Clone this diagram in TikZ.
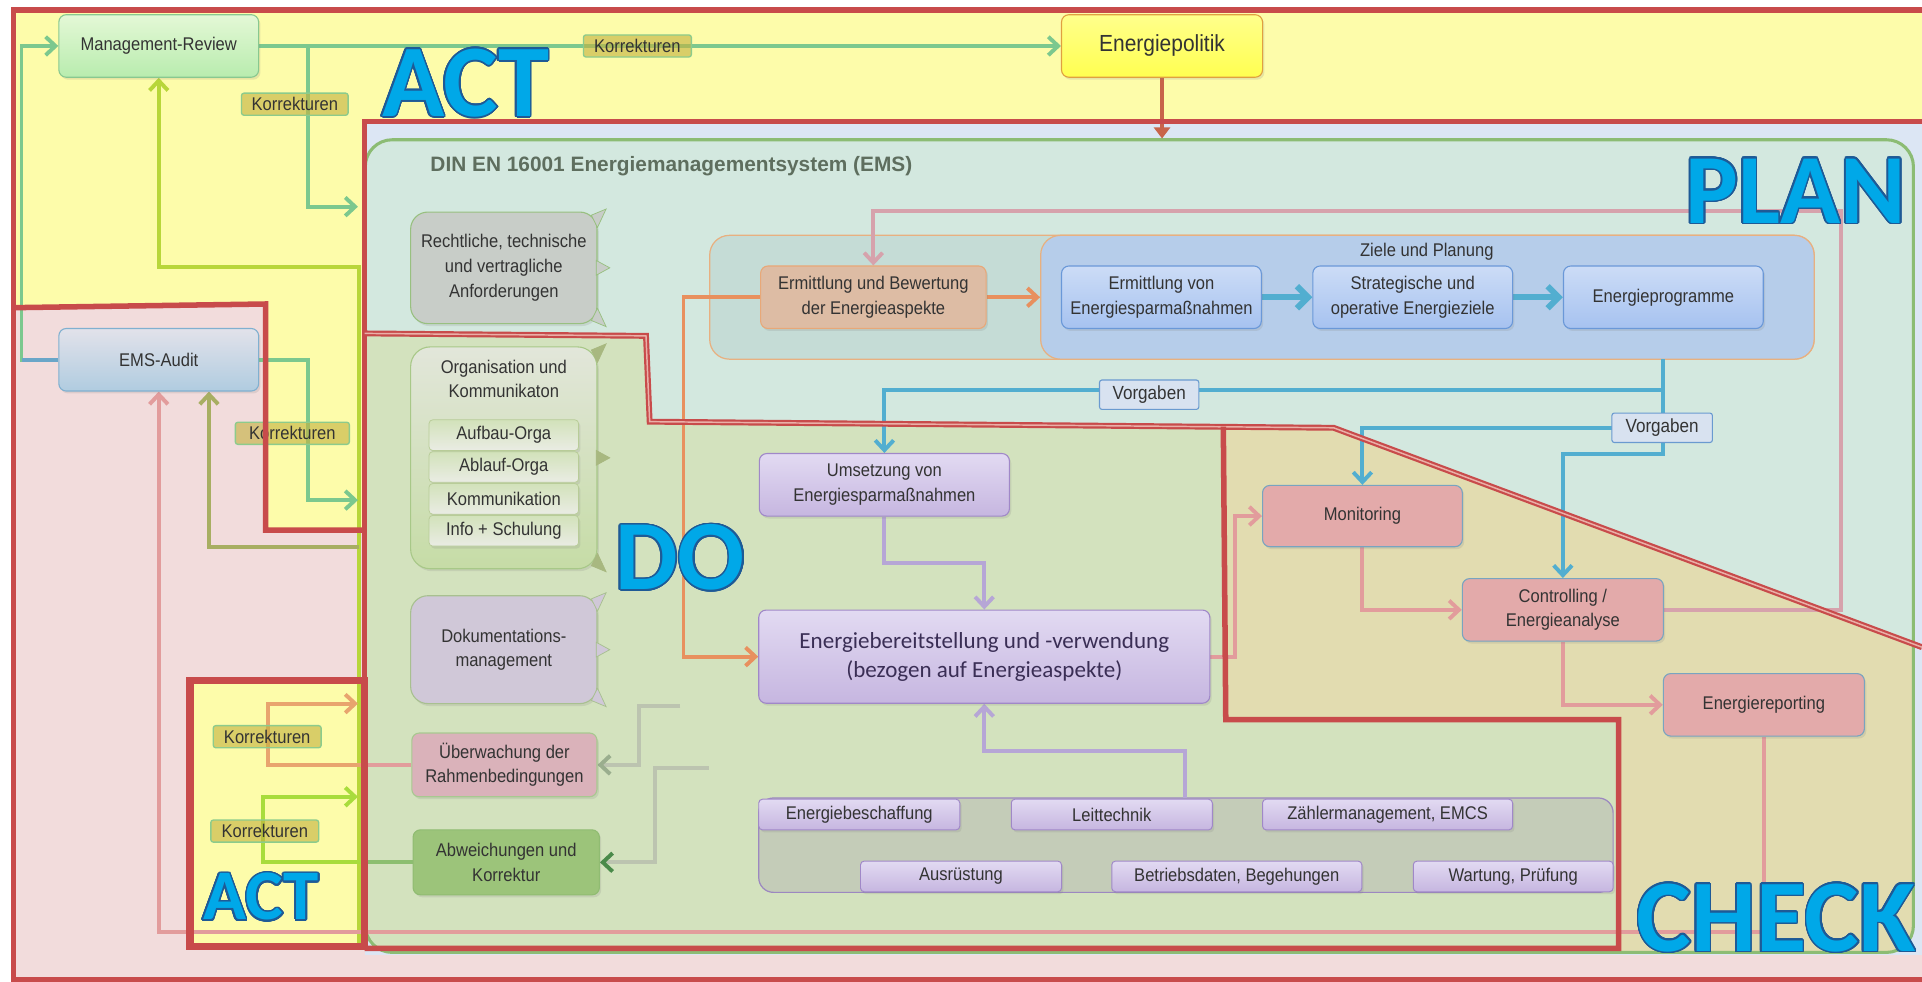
\documentclass[tikz,border=0pt]{standalone}
\usepackage{fontspec}
\setmainfont{Liberation Sans}[FakeStretch=0.9]
\newfontfamily\titlefont{Liberation Sans}
\newfontfamily\calfont{Carlito}
\usepackage{contour}
\contourlength{1.3pt}
\contournumber{24}
\usetikzlibrary{arrows.meta,shadows,calc}
\pgfdeclarelayer{bg}
\pgfdeclarelayer{conn}
\pgfdeclarelayer{fg}
\pgfsetlayers{bg,conn,main,fg}

\definecolor{yel}{HTML}{FDFCAA}
\definecolor{pnk}{HTML}{F2DCDC}
\definecolor{planc}{HTML}{DCE6F4}
\definecolor{emsc}{HTML}{D3E8DF}
\definecolor{emsline}{HTML}{8CBC74}
\definecolor{dofill}{HTML}{D3E2BE}
\definecolor{chk}{HTML}{E2DCB0}
\definecolor{redl}{HTML}{C84B4B}
\definecolor{redgap}{HTML}{EAB0A8}
\definecolor{bigblue}{HTML}{00A8E8}
\definecolor{bigline}{HTML}{1E5A96}
\definecolor{txt}{HTML}{333333}
\definecolor{cgreen}{HTML}{7CC88E}
\definecolor{cauline}{HTML}{6AA6C8}
\definecolor{cygreen}{HTML}{B8D63A}
\definecolor{colive}{HTML}{A8AE62}
\definecolor{cpink}{HTML}{E29C9C}
\definecolor{corange}{HTML}{E8A46E}
\definecolor{corange2}{HTML}{E8905E}
\definecolor{clime}{HTML}{A8DC3C}
\definecolor{cblue}{HTML}{52AED0}
\definecolor{cpurple}{HTML}{B6A6D6}
\definecolor{cred}{HTML}{C8644A}
\definecolor{cmauve}{HTML}{D6A2AC}
\definecolor{cgrey}{HTML}{BCC4B0}
\definecolor{cgreyhead}{HTML}{9AAE8E}
\definecolor{cdkgreen}{HTML}{4A8A4A}
\definecolor{abwline}{HTML}{8CBE70}
\definecolor{mrB}{HTML}{88C890}
\definecolor{mrT}{HTML}{E4F8D6}
\definecolor{mrBo}{HTML}{B8ECAE}
\definecolor{epB}{HTML}{E0A040}
\definecolor{epT}{HTML}{FFFF8C}
\definecolor{epBo}{HTML}{FFFF50}
\definecolor{auB}{HTML}{80B0D0}
\definecolor{auT}{HTML}{E2E2EA}
\definecolor{auBo}{HTML}{B0CCE0}
\definecolor{reB}{HTML}{98C080}
\definecolor{reF}{HTML}{C8CDC8}
\definecolor{orB}{HTML}{A8C888}
\definecolor{orT}{HTML}{E2E6DA}
\definecolor{orBo}{HTML}{C6DCA6}
\definecolor{itB}{HTML}{B8CC98}
\definecolor{itT}{HTML}{D2E2BA}
\definecolor{itBo}{HTML}{EAECE4}
\definecolor{doB}{HTML}{A8C090}
\definecolor{doF}{HTML}{D0C8D8}
\definecolor{ueF}{HTML}{DAB2BA}
\definecolor{ueB}{HTML}{A8C890}
\definecolor{abF}{HTML}{9CC47A}
\definecolor{abB}{HTML}{90BC72}
\definecolor{ebF}{HTML}{DDBCA4}
\definecolor{ebB}{HTML}{E8A878}
\definecolor{blB}{HTML}{6A98D8}
\definecolor{blT}{HTML}{CCDCF6}
\definecolor{blBo}{HTML}{A6C2F0}
\definecolor{voF}{HTML}{D8E2F0}
\definecolor{voB}{HTML}{6A9AD0}
\definecolor{puB}{HTML}{A088C8}
\definecolor{puT}{HTML}{E2DAF2}
\definecolor{puBo}{HTML}{C6B6E0}
\definecolor{ckF}{HTML}{E3AAAA}
\definecolor{ckB}{HTML}{78A4C0}
\definecolor{koF}{HTML}{C4B240}
\definecolor{koB}{HTML}{8CCB8C}
\definecolor{pcF}{HTML}{C5DCD6}
\definecolor{pcB}{HTML}{E8B080}
\definecolor{zpF}{HTML}{B6CDEA}
\definecolor{bcF}{HTML}{C4CCB8}
\definecolor{bcB}{HTML}{9C88C0}
\definecolor{oltail}{HTML}{A8B880}
\definecolor{titlec}{HTML}{5E6E5E}
\definecolor{ebvtxt}{HTML}{3A2E55}

\newcommand\pdcaword[1]{{\color{bigblue}\contour{bigline}{#1}}}
\newcommand\tails[3]{%
  \filldraw[fill=#2,draw=#3,line width=.6pt]
    ([shift={(-5,3)}]#1.north east) -- ([shift={(7,-2)}]#1.north east) -- ([shift={(0,13)}]#1.north east) -- cycle;
  \filldraw[fill=#2,draw=#3,line width=.6pt]
    ([shift={(-1,-6)}]#1.east) -- ([shift={(10,0)}]#1.east) -- ([shift={(-1,6)}]#1.east) -- cycle;
  \filldraw[fill=#2,draw=#3,line width=.6pt]
    ([shift={(-5,-3)}]#1.south east) -- ([shift={(7,2)}]#1.south east) -- ([shift={(0,-13)}]#1.south east) -- cycle;
}

\tikzset{
 conn/.style={line width=3.2pt, line join=miter, -{Straight Barb[length=8pt,width=15pt]}},
 bx/.style={rectangle, rounded corners=6pt, line width=0.9pt, align=center, inner sep=1pt, text=txt,
   font=\fontsize{15}{20}\selectfont, drop shadow={opacity=0.18, shadow xshift=1.5pt, shadow yshift=-2pt}},
 sz/.style 2 args={minimum width=#1pt, minimum height=#2pt},
 mrst/.style={bx, draw=mrB, top color=mrT, bottom color=mrBo},
 epst/.style={bx, draw=epB, top color=epT, bottom color=epBo, font=\fontsize{19}{22}\selectfont},
 aust/.style={bx, draw=auB, top color=auT, bottom color=auBo},
 rest/.style={bx, draw=reB, fill=reF, rounded corners=14pt, font=\fontsize{15}{20.5}\selectfont},
 orst/.style={bx, draw=orB, top color=orT, bottom color=orBo, rounded corners=16pt},
 itst/.style={bx, draw=itB, top color=itT, bottom color=itBo, rounded corners=3pt, line width=.6pt, minimum width=122pt, minimum height=25pt},
 dost/.style={bx, draw=doB, fill=doF, rounded corners=14pt},
 uest/.style={bx, draw=ueB, fill=ueF},
 abst/.style={bx, draw=abB, fill=abF},
 ebst/.style={bx, draw=ebB, fill=ebF},
 blst/.style={bx, draw=blB, top color=blT, bottom color=blBo},
 pust/.style={bx, draw=puB, top color=puT, bottom color=puBo},
 smallp/.style={pust, rounded corners=3pt, line width=.8pt, minimum height=25pt},
 ckst/.style={bx, draw=ckB, fill=ckF},
 vost/.style={rectangle, rounded corners=2pt, draw=voB, fill=voF, line width=.9pt, text=txt,
   font=\fontsize{15.5}{18}\selectfont, inner sep=0pt},
 korr/.style={rectangle, rounded corners=2pt, draw=koB, line width=1.1pt, fill=koF, fill opacity=0.62,
   text opacity=1, text=txt, font=\fontsize{15}{18}\selectfont, inner sep=0pt, minimum width=88pt, minimum height=18pt},
 bigw/.style={anchor=base, inner sep=0pt},
 redb/.style={redl, line width=4.5pt, line join=miter},
}

\begin{document}
\begin{tikzpicture}[x=1pt,y=-1pt]
\useasboundingbox (0,0) rectangle (1568,801);

% ---------------- background regions
\begin{pgfonlayer}{bg}
\fill[white] (0,0) rectangle (1568,801);
\fill[pnk] (11,250) rectangle (1568,799.5);
\fill[yel] (11,8) -- (1568,8) -- (1568,99) -- (297.5,99) -- (297.5,432.5) -- (216.7,432.5) -- (216.7,248) -- (11,251) -- cycle;
\fill[planc] (297.5,99) rectangle (1568,779);
\fill[emsc, rounded corners=22pt] (298,114) rectangle (1561,777);
\begin{scope}
 \clip[rounded corners=22pt] (298,114) rectangle (1561,777);
 \fill[dofill] (298,272) -- (527,274) -- (530,344) -- (998,348) -- (1000,587) -- (1320.5,587) -- (1320.5,790) -- (290,790) -- cycle;
 \fill[chk] (998,348) -- (1088,349) -- (1580,535) -- (1580,790) -- (1320.5,790) -- (1320.5,587) -- (1000,587) -- cycle;
\end{scope}
\draw[emsline, line width=2.5pt, rounded corners=22pt] (298,114) rectangle (1561,777);
\fill[yel] (155,555) rectangle (297.5,772);
\node[rectangle, rounded corners=16pt, draw=pcB, fill=pcF, line width=1pt, sz={901}{101}] (pc) at (1029.5,242.5) {};
\node[rectangle, rounded corners=16pt, draw=pcB, fill=zpF, line width=1pt, sz={631}{101}] (zp) at (1164.5,242.5) {};
\node[rectangle, rounded corners=12pt, draw=bcB, fill=bcF, line width=1pt, sz={697}{77}] (bc) at (967.5,689.5) {};
\end{pgfonlayer}

% ---------------- nodes
\node[mrst, sz={163}{51}] (mr) at (129.5,37.5) {Management-Review};
\node[epst, sz={164}{51}] (ep) at (948,37.5) {Energiepolitik};
\node[aust, sz={163}{51}] (audit) at (129.5,293.5) {EMS-Audit};

\node[anchor=base west, inner sep=0pt, font=\titlefont\bfseries\fontsize{17}{20}\selectfont, text=titlec] (title) at (351,140) {DIN EN 16001 Energiemanagementsystem (EMS)};

\node[rest, sz={152}{91}] (rechtl) at (411,218.5) {Rechtliche, technische\\und vertragliche\\Anforderungen};
\node[orst, sz={152}{181}] (org) at (411,373.5) {};
\node[align=center, text=txt, font=\fontsize{15}{20}\selectfont] (orgt) at (411,309) {Organisation und\\Kommunikaton};
\node[itst] (it1) at (411,355) {Aufbau-Orga};
\node[itst] (it2) at (411,381) {Ablauf-Orga};
\node[itst] (it3) at (411,407) {Kommunikation};
\node[itst] (it4) at (411,433) {Info + Schulung};
\node[dost, sz={152}{88}] (doku) at (411,530) {Dokumentations-\\management};
\node[uest, sz={151}{52}] (ueb) at (411.5,624) {Überwachung der\\Rahmenbedingungen};
\node[abst, sz={152}{53}] (abw) at (413,703.5) {Abweichungen und\\Korrektur};

\tails{rechtl}{reF}{reB}
\tails{org}{oltail}{oltail}
\tails{doku}{doF}{doB}

\node[text=txt, font=\fontsize{15}{18}\selectfont] (zpt) at (1164,205) {Ziele und Planung};
\node[ebst, sz={184}{51}] (eb) at (712.5,242.5) {Ermittlung und Bewertung\\der Energieaspekte};
\node[blst, sz={163}{51}] (ev) at (947.5,242.5) {Ermittlung von\\Energiesparmaßnahmen};
\node[blst, sz={163}{51}] (so) at (1152.5,242.5) {Strategische und\\operative Energieziele};
\node[blst, sz={163}{51}] (epg) at (1357,242.5) {Energieprogramme};

\node[pust, sz={204}{51}] (ums) at (721.5,395.5) {Umsetzung von\\Energiesparmaßnahmen};
\node[pust, sz={368}{76}, font=\calfont\fontsize{18.8}{23.5}\selectfont, text=ebvtxt] (ebv) at (803,535.7) {Energiebereitstellung und -verwendung\\(bezogen auf Energieaspekte)};
\node[ckst, sz={163}{50}] (mon) at (1111.5,421) {Monitoring};
\node[ckst, sz={164}{51}] (ctrl) at (1275,497.5) {Controlling /\\Energieanalyse};
\node[ckst, sz={164}{51}] (rep) at (1439,575) {Energiereporting};

\node[vost, sz={81}{24}] (v1) at (937.5,322) {Vorgaben};
\node[vost, sz={82}{24}] (v2) at (1356,349) {Vorgaben};

\node[korr] (k1) at (520,37.5) {Korrekturen};
\node[korr, minimum width=87pt] (k2) at (240.5,85) {Korrekturen};
\node[korr, minimum width=93pt] (k3) at (238.5,353.5) {Korrekturen};
\node[korr] (k4) at (218,601) {Korrekturen};
\node[korr] (k5) at (216,678) {Korrekturen};

\node[smallp, minimum width=164pt] (s1) at (701,664.5) {Energiebeschaffung};
\node[smallp, minimum width=164pt] (s2) at (907,664.5) {Leittechnik};
\node[smallp, minimum width=204pt] (s3) at (1132,664.5) {Zählermanagement, EMCS};
\node[smallp, minimum width=164pt] (s4) at (784,715) {Ausrüstung};
\node[smallp, minimum width=204pt] (s5) at (1009,715) {Betriebsdaten, Begehungen};
\node[smallp, minimum width=163pt] (s6) at (1234.5,715) {Wartung, Prüfung};

% ---------------- coordinates
\coordinate (j1) at (251,37.5);
\coordinate (tA) at (292,168.6);
\coordinate (tB) at (292,408);
\coordinate (tC) at (292,574);
\coordinate (tD) at (292,650);
\coordinate (ygs) at (292.5,773);
\coordinate (olv) at (292.5,446.5);
\coordinate (emsTop) at (948,113);
\coordinate (zpb) at (1357,293);
\coordinate (jb1) at (1357,318);
\coordinate (jb2) at (1357,349);
\coordinate (bc1) at (967,651);
\coordinate (g1) at (555,576);
\coordinate (g2) at (578,626.5);

% ---------------- connectors
\begin{pgfonlayer}{conn}
\draw[conn,cgreen] (mr.east) -- (ep.west);
\draw[conn,cgreen] (j1) |- (tA);
\draw[conn,cgreen] (audit.west) -- ++(-30,0) |- (mr.west);
\draw[line width=3.2pt,cauline] (audit.west) -- ++(-30,0);
\draw[conn,cygreen] (ygs) -- (292.5,217.6) -| (mr.south);
\draw[conn,colive] (olv) -| ([xshift=41pt]audit.south);
\draw[conn,cpink] (rep.south) -- (1439,760) -| (audit.south);
\draw[conn,cgreen] (audit.east) -- (251,293.5) |- (tB);
\draw[line width=3pt, cred, -{Triangle[length=9pt,width=13pt]}] (ep.south) -- (emsTop);
\draw[conn,cmauve] (ctrl.east) -| (1501.6,172) -| (eb.north);
\draw[conn,corange2] (eb.west) -- (557.6,242.5) |- (ebv.west);
\draw[conn,corange2] (eb.east) -- (zp.west);
\draw[line width=5pt,cblue,-{Straight Barb[length=9pt,width=18pt]}] (ev.east) -- (so.west);
\draw[line width=5pt,cblue,-{Straight Barb[length=9pt,width=18pt]}] (so.east) -- (epg.west);
\draw[conn,cblue] (zpb) -- (jb1) -| (ums.north);
\draw[conn,cblue] (jb1) -- (jb2) -| (mon.north);
\draw[conn,cblue] (jb2) -- (1357,370) -| (ctrl.north);
\draw[conn,cpurple] (ums.south) -- ++(0,38) -| (ebv.north);
\draw[conn,cpurple] (bc1) -- (967,613) -| (ebv.south);
\draw[conn,cpink] (ebv.east) -- (1007.5,535.7) |- (mon.west);
\draw[conn,cpink] (mon.south) |- (ctrl.west);
\draw[conn,cpink] (ctrl.south) |- (rep.west);
\draw[conn,corange] (ueb.west) -- (218.6,624) |- (tC);
\draw[line width=3.2pt,cpink] (ueb.west) -- (297.5,624);
\draw[conn,clime] (abw.west) -- (214.8,703.5) |- (tD);
\draw[line width=3.2pt,abwline] (abw.west) -- (297.5,703.5);
\draw[line width=3.2pt,cgrey,-{Straight Barb[length=8pt,width=15pt,color=cgreyhead]}] (g1) -- (521,576) |- (ueb.east);
\draw[line width=3.2pt,cgrey,-{Straight Barb[length=8pt,width=15pt,color=cdkgreen]}] (g2) -- (534,626.5) |- (abw.east);
\end{pgfonlayer}

% ---------------- red PDCA borders and big labels
\begin{pgfonlayer}{fg}
\draw[redb] (1568,8) -- (11,8) -- (11,799.5) -- (1568,799.5);
\draw[redb] (11,251) -- (216.7,248) -- (216.7,432.5) -- (297.5,432.5);
\draw[redb] (1568,99) -- (297.5,99) -- (297.5,773.6);
\draw[redl, line width=1.8pt, double=redgap, double distance=1.2pt] (297.5,272) -- (527,274) -- (530,344) -- (1088,349) -- (1568,528);
\draw[redb] (998,348) -- (1000,587) -- (1320.5,587) -- (1320.5,773.6) -- (297.5,773.6);
\draw[redl, line width=6pt] (155,555) rectangle (297.5,772);

\node[bigw, font=\calfont\bfseries\fontsize{84}{84}\selectfont] (lact) at (380,95) {\pdcaword{ACT}};
\node[bigw, font=\calfont\bfseries\fontsize{81}{81}\selectfont] (lplan) at (1465,182) {\pdcaword{PLAN}};
\node[bigw, font=\calfont\bfseries\fontsize{81}{81}\selectfont] (ldo) at (555,481) {\pdcaword{DO}};
\node[bigw, font=\calfont\bfseries\fontsize{84}{84}\selectfont] (lcheck) at (1449,776) {\pdcaword{CHECK}};
\node[bigw, font=\calfont\bfseries\fontsize{58}{58}\selectfont] (lact2) at (213,750.5) {\pdcaword{ACT}};
\end{pgfonlayer}
\end{tikzpicture}
\end{document}
